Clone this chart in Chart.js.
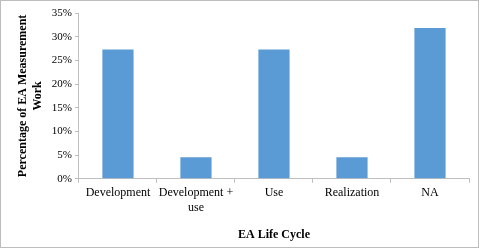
<!DOCTYPE html>
<html><head><meta charset="utf-8">
<script src="https://cdn.jsdelivr.net/npm/chart.js@4.4.0/dist/chart.umd.min.js"></script>
<style>
html,body{margin:0;padding:0;background:#fff;}
#wrap{position:relative;width:479px;height:248px;box-sizing:border-box;border:1px solid #bdbdbd;}
canvas{display:block;}
</style></head><body>
<div id="wrap"><canvas id="c" width="477" height="246"></canvas></div>
<script>
const categories = ['Development', ['Development +', 'use'], 'Use', 'Realization', 'NA'];
const values = [27.27, 4.55, 27.27, 4.55, 31.82];
const yTicks = [0, 5, 10, 15, 20, 25, 30, 35];
const xTitle = 'EA Life Cycle';
const yTitle = ['Percentage of EA Measurement', 'Work'];

new Chart(document.getElementById('c'), {
  type: 'bar',
  data: { labels: categories, datasets: [{ data: values, backgroundColor: '#5b9bd5', borderWidth: 0, categoryPercentage: 0.4, barPercentage: 1 }] },
  options: {
    responsive: false, animation: false, devicePixelRatio: 1,
    layout: { padding: { top: 12, right: 9, left: 15, bottom: 5 } },
    plugins: { legend: { display: false }, tooltip: { enabled: false } },
    scales: {
      x: {
        grid: { drawOnChartArea: false, drawTicks: true, tickLength: 4, color: '#bfbfbf', offset: true },
        border: { display: true, color: '#bfbfbf' },
        ticks: { color: '#000', font: { family: 'Liberation Serif', size: 12 }, maxRotation: 0, padding: 3 },
        title: { display: true, text: xTitle, color: '#000', font: { family: 'Liberation Serif', size: 12, weight: 'bold' }, padding: { top: 10, bottom: 0 } }
      },
      y: {
        min: 0, max: 35,
        afterBuildTicks: (s) => { s.ticks = yTicks.map(v => ({ value: v })); },
        grid: { drawOnChartArea: false, drawTicks: true, tickLength: 4, color: '#bfbfbf' },
        border: { display: true, color: '#bfbfbf' },
        ticks: { color: '#000', font: { family: 'Liberation Serif', size: 11 }, padding: 3, callback: (v) => v + '%' },
        title: { display: true, text: yTitle, color: '#000', font: { family: 'Liberation Serif', size: 12, weight: 'bold' }, padding: { top: 0, bottom: 4 } }
      }
    }
  }
});
</script>
</body></html>
